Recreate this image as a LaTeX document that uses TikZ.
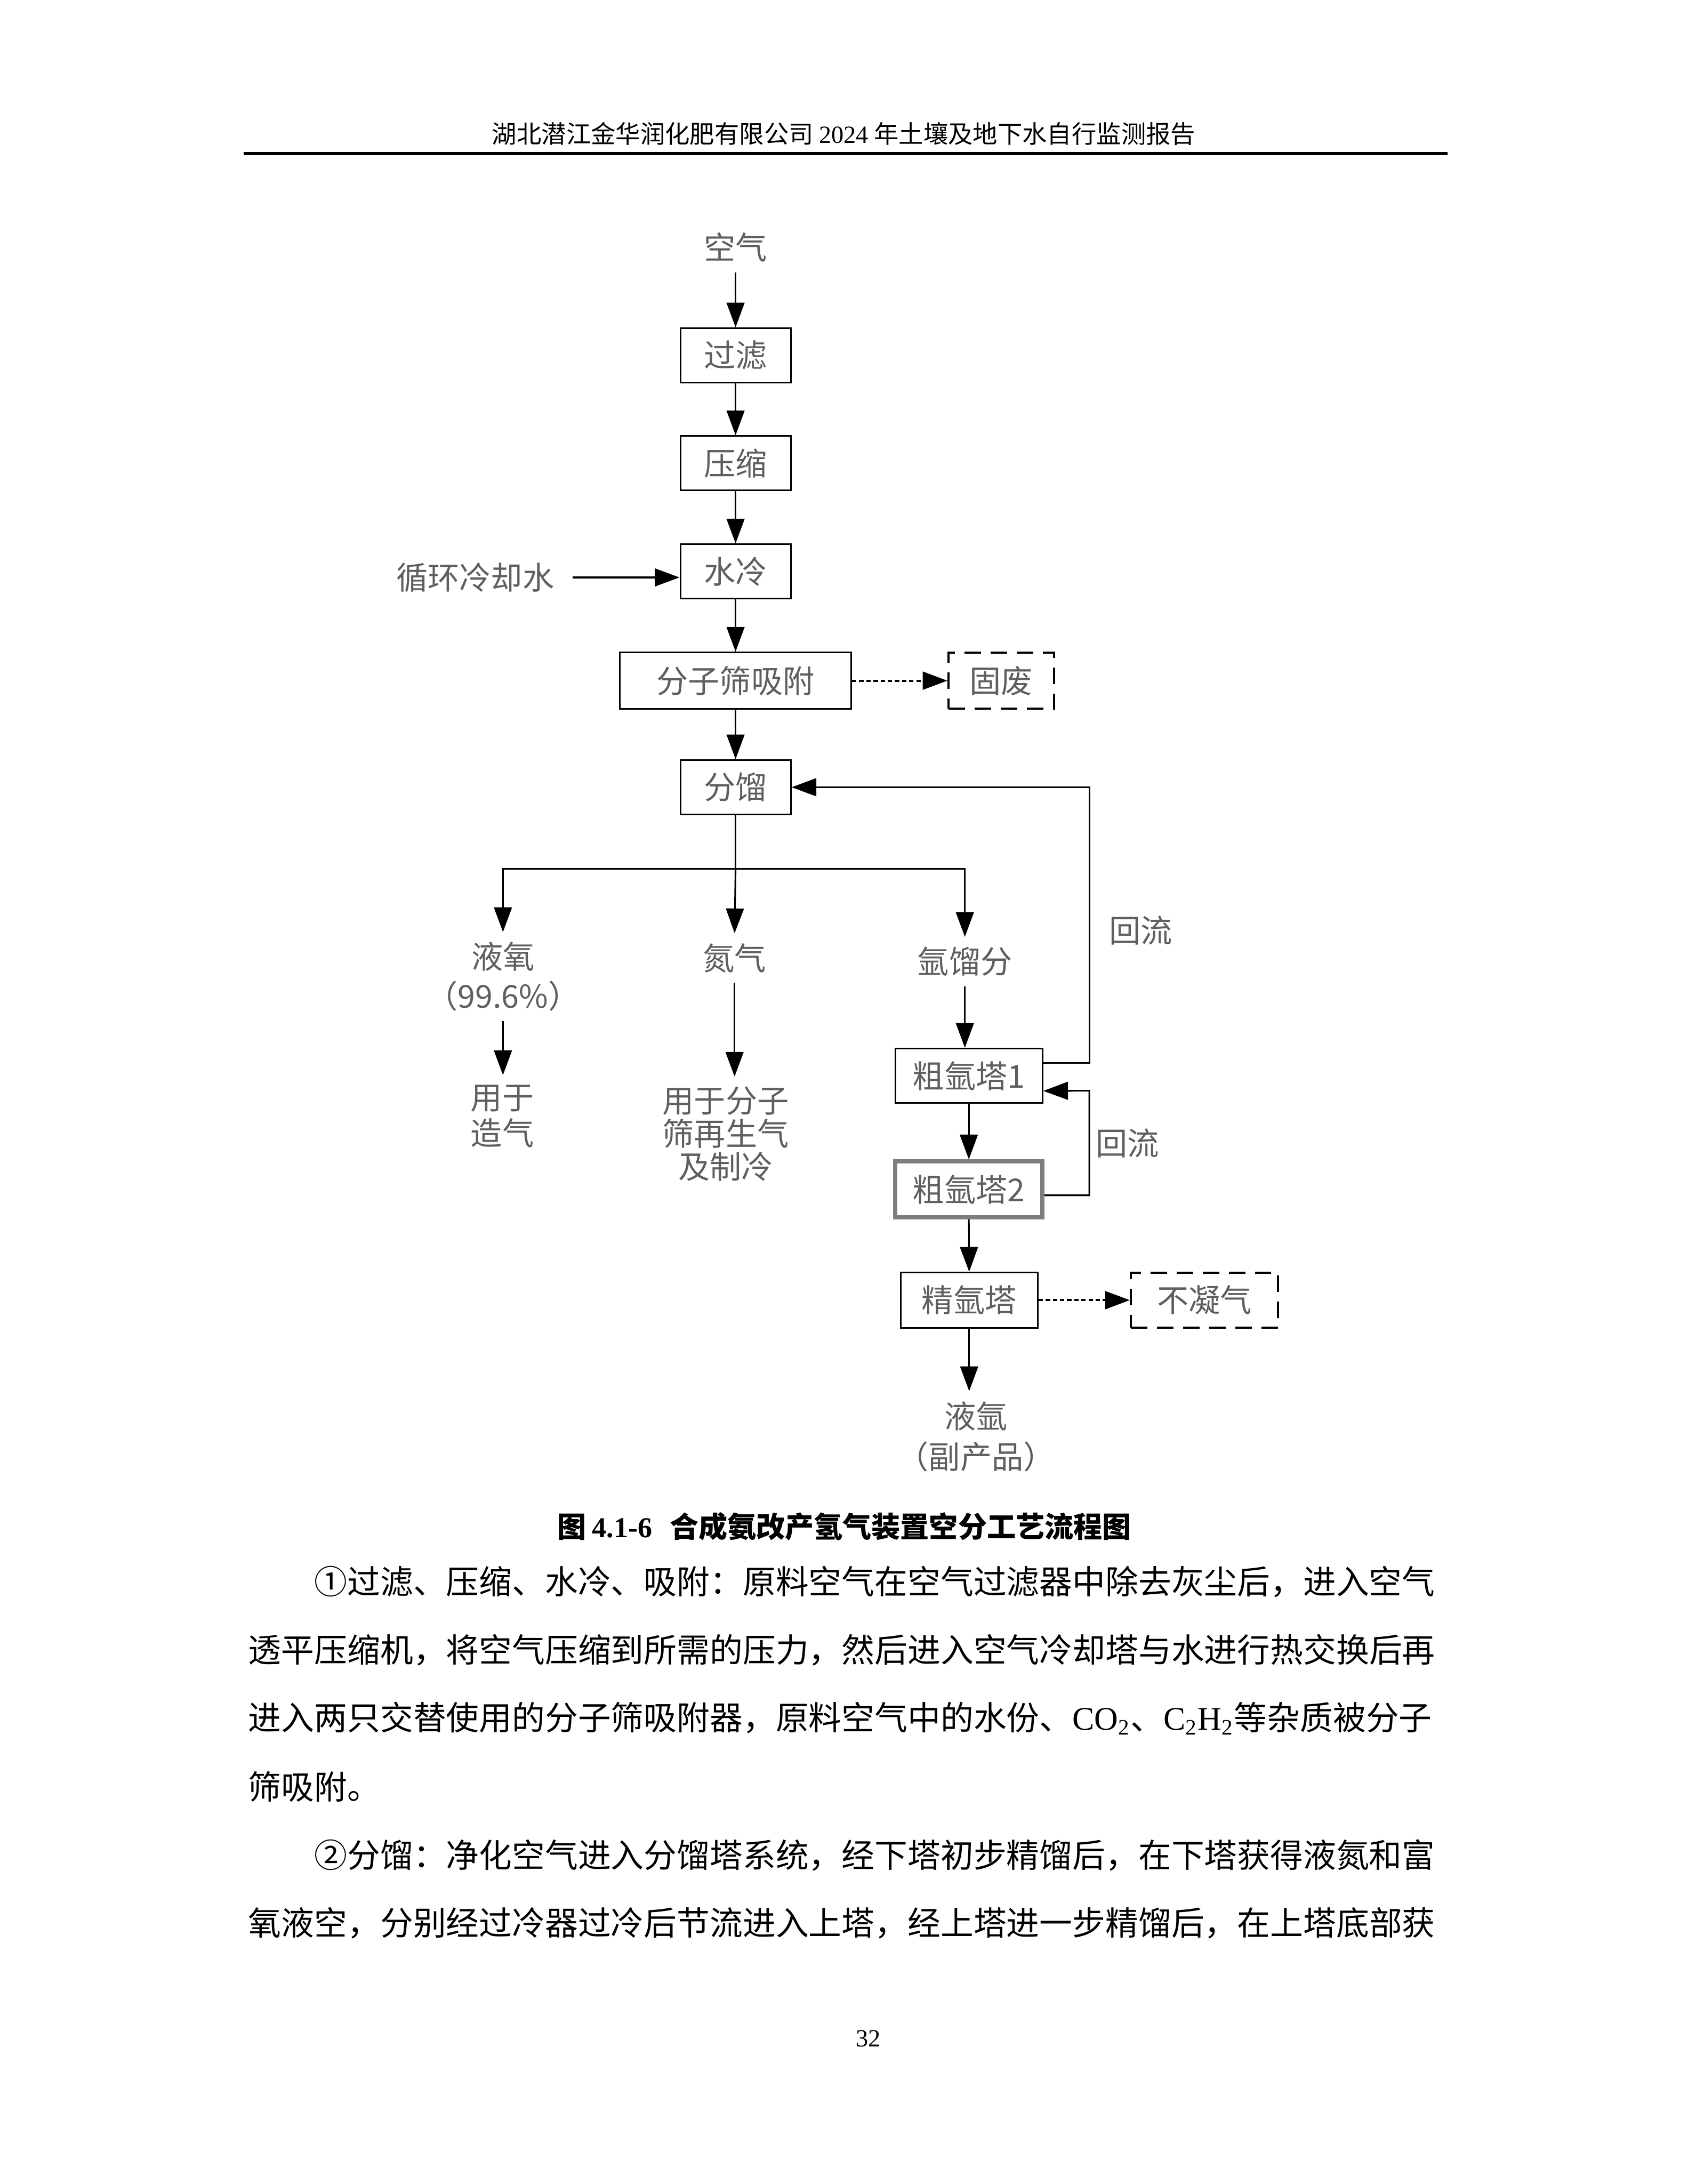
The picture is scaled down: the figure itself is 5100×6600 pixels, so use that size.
\documentclass[tikz,border=0pt]{standalone}
\usepackage{fontspec}
\setmainfont{Liberation Serif}
\newfontfamily\cjk{Noto Sans CJK SC}
\usetikzlibrary{arrows.meta,calc}
\XeTeXlinebreaklocale "zh"
\XeTeXlinebreakskip=0pt plus 1pt minus 0.1pt
\definecolor{lblgray}{RGB}{95,95,95}
\definecolor{boxgray}{RGB}{125,125,125}
\newcommand\lblfont{\cjk\fontsize{11.5}{12}\selectfont}
\newcommand\bodyfont{\cjk\fontsize{12}{14}\selectfont}
\newcommand\fj{\parfillskip=0pt\relax}
\tikzset{
  lbl/.style={font=\lblfont, text=lblgray, inner sep=3.5pt},
  pbox/.style={draw, line width=0.6pt, inner sep=0pt, font=\lblfont, text=lblgray, minimum height=19.8pt},
  wbox/.style={pbox, dash pattern=on 6pt off 3.5pt, line width=0.8pt},
  arr/.style={line width=0.6pt, -{Triangle[length=9pt,width=6.5pt]}},
  darr/.style={arr, dash pattern=on 1.6pt off 1pt, line width=0.8pt},
  body/.style={anchor=west, inner sep=0pt, text width=432pt, align=justify, font=\bodyfont},
}
\begin{document}
\begin{tikzpicture}[x=0.12045pt, y=-0.12045pt]
\path[fill=white] (0,0) rectangle (5100,6600);

% header
\node[font=\cjk\fontsize{9}{11}\selectfont, inner sep=0pt] (hdr) at (2550,404)
  {湖北潜江金华润化肥有限公司 {\rmfamily 2024} 年土壤及地下水自行监测报告};
\draw[line width=1pt] (736,464) -- (4375,464);

% diagram nodes
\node[lbl] (air) at (2223,748) {空气};
\node[pbox, minimum width=40.2pt] (filt) at (2223,1074) {过滤};
\node[pbox, minimum width=40.2pt] (comp) at (2223,1400) {压缩};
\node[pbox, minimum width=40.2pt] (cool) at (2223,1727) {水冷};
\node[lbl] (cyc) at (1436,1745) {循环冷却水};
\node[pbox, minimum width=84.2pt, minimum height=20.5pt] (sieve) at (2223,2057) {分子筛吸附};
\node[wbox, minimum width=38.4pt, minimum height=20.5pt] (waste) at (3026,2057) {固废};
\node[pbox, minimum width=40.2pt] (frac) at (2223,2379) {分馏};
\coordinate (j) at (2223,2625);
\node[lbl, align=center] (oxy) at (1520,2951) {液氧\\[2.2pt]（99.6\%）};
\node[lbl, align=center] (use1) at (1518,3374) {用于\\[1pt]造气};
\node[lbl] (n2) at (2220,2895) {氮气};
\node[lbl, align=center] (n2use) at (2193,3427) {用于分子\\筛再生气\\及制冷};
\node[lbl] (ar) at (2916,2906) {氩馏分};
\node[lbl] (ref1) at (3447,2812) {回流};
\node[pbox, minimum width=53.6pt] (c1) at (2928,3251) {粗氩塔1};
\node[pbox, minimum width=53.6pt, minimum height=20.3pt, draw=boxgray, line width=1.5pt] (c2) at (2928,3594) {粗氩塔2};
\node[lbl] (ref2) at (3407,3455) {回流};
\node[pbox, minimum width=49.9pt, minimum height=20.1pt] (fine) at (2929,3929) {精氩塔};
\node[wbox, minimum width=53.5pt, minimum height=20.1pt] (nc) at (3640,3929) {不凝气};
\node[lbl, align=center] (liqar) at (2950,4341) {液氩\\[2.8pt]（副产品）};
\coordinate (rA) at (3292,2379);
\coordinate (rB) at (3292,3296);

% connectors
\draw[arr] (air.south) -- (filt.north);
\draw[arr] (filt.south) -- (comp.north);
\draw[arr] (comp.south) -- (cool.north);
\draw[arr, shorten <=3pt] (cyc.east) -- (cyc.east -| cool.west);
\draw[arr] (cool.south) -- (sieve.north);
\draw[darr] (sieve.east) -- (waste.west);
\draw[arr] (sieve.south) -- (frac.north);
\draw[line width=0.6pt] (frac.south) -- (j);
\draw[arr] (j) -| (oxy.north);
\draw[arr] (j) -- (n2.north);
\draw[arr] (j) -| (ar.north);
\draw[arr] (oxy.south) -- (oxy.south |- use1.north);
\draw[arr] (n2.south) -- (n2.south |- n2use.north);
\draw[arr] (ar.south) -- (ar.south |- c1.north);
\draw[arr] ($(c1.north east)!0.27!(c1.south east)$) -| (rA) -- (frac.east);
\draw[arr] (c1.south) -- (c2.north);
\draw[arr] ($(c2.north east)!0.6!(c2.south east)$) -| (rB) -- ($(c1.north east)!0.77!(c1.south east)$);
\draw[arr] (c2.south) -- (fine.north);
\draw[darr] (fine.east) -- (nc.west);
\draw[arr] (fine.south) -- (fine.south |- liqar.north);

% caption
\node[font=\cjk\bfseries\fontsize{10.5}{12}\selectfont, inner sep=0pt] (cap) at (2552,4613)
  {图\hspace{0.2em}{\rmfamily\bfseries 4.1-6}\hspace{0.6em}合成氨改产氢气装置空分工艺流程图};

% body text
\node[body] (l1) at (749,4780) {\fj\hspace*{2em}①过滤、压缩、水冷、吸附：原料空气在空气过滤器中除去灰尘后，进入空气};
\node[body] (l2) at (749,4986) {\fj 透平压缩机，将空气压缩到所需的压力，然后进入空气冷却塔与水进行热交换后再};
\node[body] (l3) at (749,5193) {\fj 进入两只交替使用的分子筛吸附器，原料空气中的水份、{\rmfamily CO\textsubscript{2}}、{\rmfamily C\textsubscript{2}H\textsubscript{2}}等杂质被分子};
\node[body] (l4) at (749,5399) {筛吸附。};
\node[body] (l5) at (749,5606) {\fj\hspace*{2em}②分馏：净化空气进入分馏塔系统，经下塔初步精馏后，在下塔获得液氮和富};
\node[body] (l6) at (749,5812) {\fj 氧液空，分别经过冷器过冷后节流进入上塔，经上塔进一步精馏后，在上塔底部获};

% page number
\node[font=\rmfamily\fontsize{9}{11}\selectfont, inner sep=0pt] (pg) at (2624,6161) {32};
\end{tikzpicture}
\end{document}
